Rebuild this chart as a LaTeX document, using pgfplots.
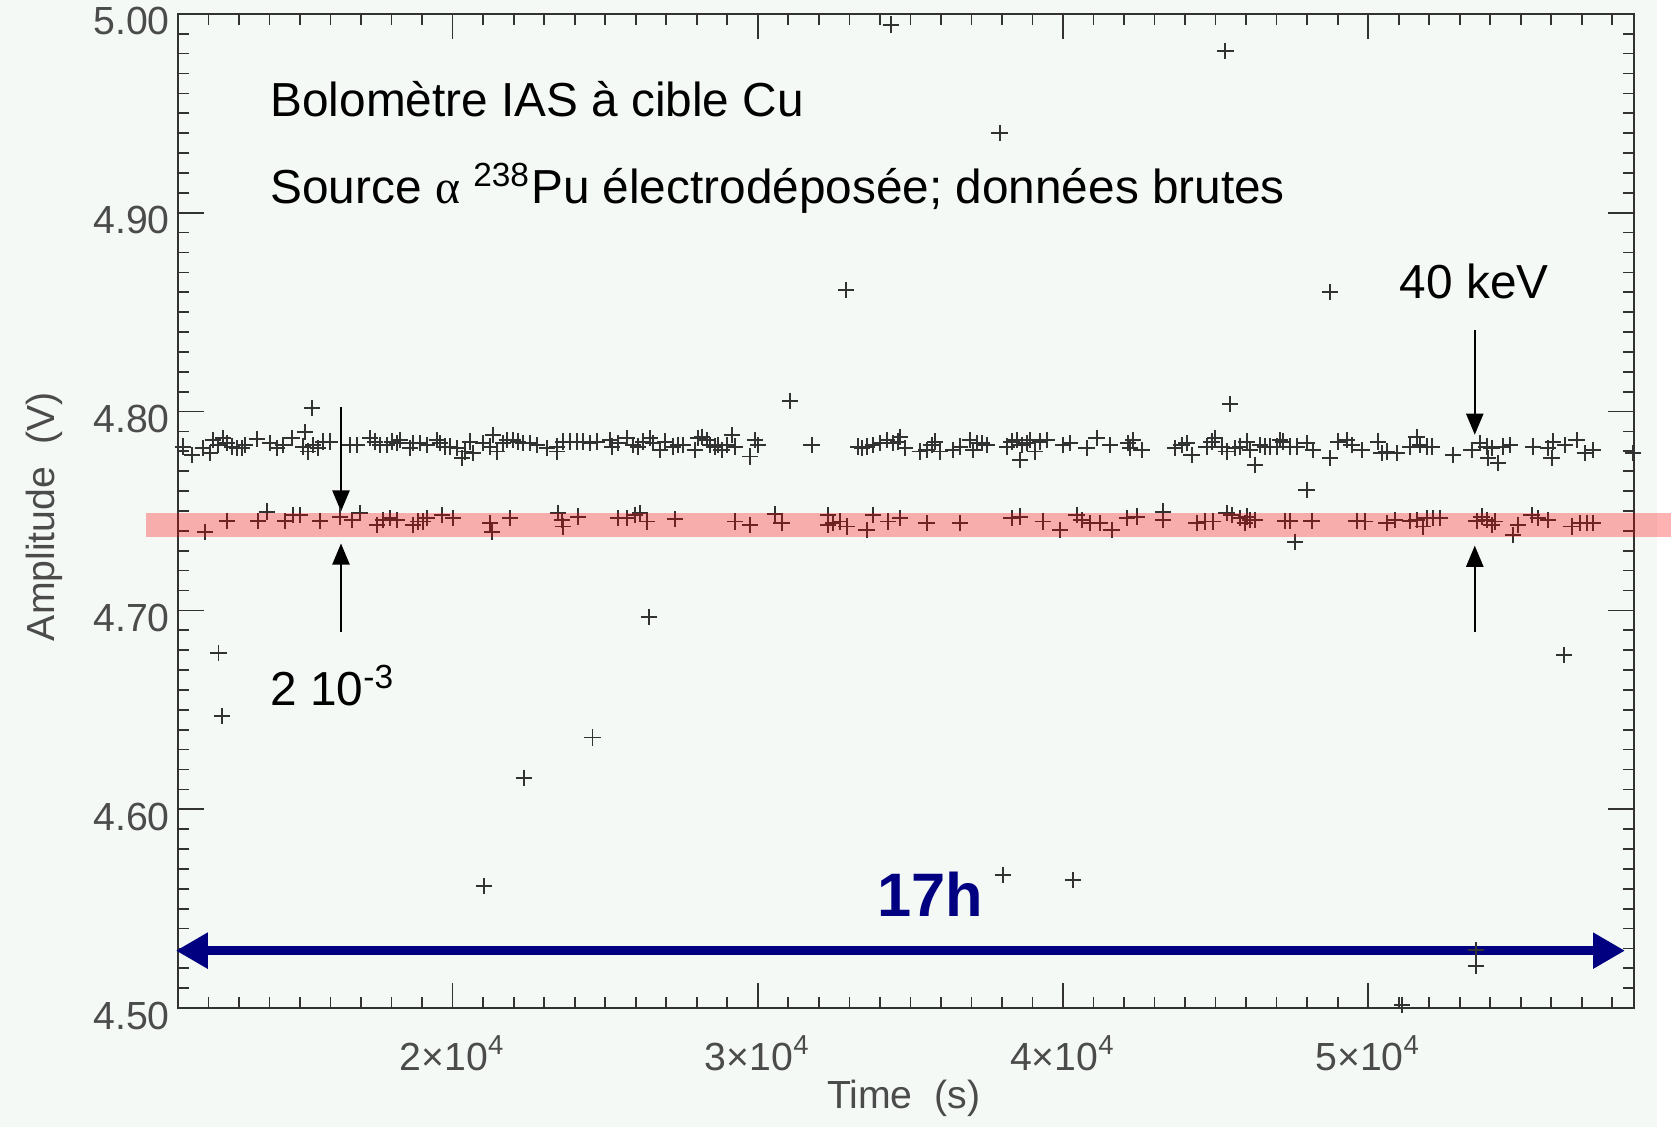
\documentclass[border=0pt]{standalone}
\usepackage{pgfplots}
\pgfplotsset{compat=1.18}
\usepackage{pgfplotstable}
\usetikzlibrary{arrows.meta}
\usepackage{fontspec}
\setmainfont{Liberation Sans}
\newfontfamily\greekfont{Liberation Serif}

\definecolor{paper}{RGB}{244,249,246}
\definecolor{ink}{RGB}{50,50,50}
\definecolor{labelink}{RGB}{75,75,75}
\definecolor{navy}{RGB}{0,0,128}

% Upper line of events (raw amplitude, V) versus time (s)
\pgfplotstableread{
t a
11175 4.7824
11448 4.7782
11830 4.7815
12049 4.7790
12157 4.7857
12322 4.7832
12485 4.7866
12594 4.7841
12758 4.7824
12922 4.7815
13086 4.7815
13195 4.7832
13578 4.7862
14014 4.7841
14233 4.7815
14451 4.7832
14724 4.7866
15107 4.7824
15161 4.7899
15271 4.7799
15434 4.7832
15598 4.7815
15762 4.7849
15980 4.7849
16636 4.7832
16854 4.7832
17291 4.7866
17455 4.7849
17619 4.7832
17837 4.7832
18001 4.7849
18165 4.7841
18274 4.7857
18602 4.7815
18711 4.7841
18929 4.7841
19148 4.7832
19476 4.7857
19585 4.7841
19749 4.7824
19912 4.7824
20131 4.7815
20295 4.7765
20404 4.7799
20568 4.7849
20677 4.7790
21005 4.7841
21223 4.7824
21332 4.7882
21441 4.7799
21660 4.7841
21769 4.7857
21987 4.7857
22151 4.7849
22315 4.7841
22534 4.7841
22752 4.7832
23080 4.7815
23407 4.7824
23407 4.7799
23626 4.7849
23844 4.7849
24063 4.7849
24281 4.7849
24500 4.7841
24718 4.7849
25155 4.7857
25209 4.7824
25428 4.7841
25701 4.7866
25920 4.7832
26083 4.7824
26247 4.7849
26465 4.7866
26575 4.7841
26793 4.7807
26957 4.7849
27230 4.7824
27393 4.7832
27557 4.7832
27940 4.7807
28049 4.7866
28158 4.7874
28322 4.7857
28431 4.7832
28595 4.7824
28704 4.7832
28813 4.7807
28977 4.7832
29141 4.7882
29250 4.7824
29742 4.7774
29905 4.7857
30015 4.7832
31762 4.7832
33291 4.7824
33401 4.7815
33564 4.7824
33783 4.7832
34001 4.7841
34220 4.7857
34438 4.7841
34602 4.7849
34657 4.7874
34820 4.7815
35312 4.7799
35530 4.7807
35694 4.7832
35803 4.7849
35967 4.7799
36404 4.7807
36623 4.7824
36950 4.7857
37060 4.7807
37169 4.7841
37332 4.7841
37496 4.7832
38152 4.7824
38315 4.7849
38479 4.7857
38643 4.7832
38588 4.7757
38807 4.7841
38916 4.7857
39080 4.7799
39244 4.7849
39462 4.7857
40008 4.7832
40227 4.7841
40773 4.7815
41100 4.7866
41537 4.7832
42138 4.7841
42193 4.7815
42302 4.7857
42575 4.7807
43667 4.7815
43885 4.7832
44049 4.7841
44213 4.7782
44704 4.7824
44868 4.7849
44977 4.7866
45196 4.7824
45360 4.7799
45633 4.7815
45797 4.7824
46015 4.7849
46124 4.7807
46288 4.7732
46452 4.7832
46616 4.7824
46780 4.7824
46998 4.7824
47107 4.7857
47216 4.7849
47435 4.7824
47653 4.7824
47981 4.7841
48199 4.7807
48746 4.7765
49018 4.7849
49291 4.7857
49455 4.7832
49783 4.7807
50329 4.7849
50438 4.7790
50602 4.7799
50930 4.7790
51367 4.7824
51585 4.7874
51694 4.7832
51913 4.7824
52077 4.7824
52787 4.7782
53388 4.7807
53661 4.7841
53879 4.7824
53933 4.7765
54043 4.7815
54261 4.7740
54425 4.7824
54643 4.7832
55408 4.7824
55899 4.7815
56063 4.7849
56009 4.7765
56446 4.7832
56828 4.7857
57101 4.7790
57374 4.7807
58685 4.7790
}\upperline

% Lower line of events
\pgfplotstableread{
t a
11885 4.7396
12594 4.7450
13632 4.7450
13905 4.7497
14506 4.7450
14779 4.7480
14997 4.7480
15653 4.7450
16308 4.7472
16690 4.7455
16963 4.7489
17510 4.7430
17728 4.7455
17946 4.7463
18165 4.7455
18711 4.7430
18875 4.7447
19039 4.7447
19148 4.7463
19639 4.7480
20022 4.7463
21223 4.7438
21278 4.7396
21878 4.7463
23462 4.7489
23571 4.7455
23626 4.7422
24117 4.7472
25428 4.7463
25701 4.7463
25974 4.7480
26138 4.7489
26356 4.7447
27284 4.7458
29250 4.7447
29742 4.7430
30561 4.7483
30779 4.7438
32308 4.7480
32308 4.7430
32472 4.7438
32691 4.7447
32909 4.7422
33564 4.7405
33783 4.7480
34274 4.7447
34657 4.7463
35530 4.7438
36623 4.7438
38315 4.7463
38588 4.7472
39353 4.7447
39899 4.7405
40445 4.7480
40609 4.7455
40882 4.7438
41210 4.7438
41592 4.7405
42084 4.7463
42411 4.7472
43284 4.7497
43284 4.7455
44377 4.7438
44650 4.7447
44923 4.7447
45360 4.7489
45523 4.7480
45797 4.7463
45960 4.7438
46015 4.7472
46124 4.7455
46288 4.7455
47271 4.7450
47435 4.7450
48145 4.7450
49619 4.7450
49893 4.7447
50602 4.7438
50875 4.7455
51367 4.7450
51585 4.7455
51804 4.7422
51913 4.7463
52131 4.7463
52350 4.7463
53551 4.7450
53715 4.7472
53879 4.7455
54043 4.7430
54152 4.7447
54753 4.7380
54917 4.7430
55353 4.7480
55572 4.7463
55899 4.7455
56665 4.7422
56937 4.7438
57156 4.7438
57374 4.7438
}\lowerline

% Isolated events
\pgfplotstableread{
t a
12327 4.6785
12432 4.6468
15399 4.8017
21021 4.5616
22348 4.6158
24582 4.6361
26433 4.6967
31042 4.8055
32892 4.8612
34359 4.9946
37921 4.9400
38026 4.5670
40330 4.5643
45323 4.9812
45462 4.8039
47599 4.7346
47981 4.7606
48745 4.8601
51119 4.5016
53528 4.5290
53528 4.5210
56426 4.6774
}\strays

\begin{document}
\begin{tikzpicture}
% scanned sheet
\fill[paper] (0,0) rectangle (388.75pt,264.5pt);
\fill[white] (388.75pt,0) rectangle (392pt,264.5pt);
\begin{axis}[
  at={(41.75pt,28pt)}, anchor=south west,
  scale only axis, width=341.5pt, height=233.25pt,
  xmin=11000, xmax=58700, ymin=4.5, ymax=5.0,
  clip=false,
  axis line style={ink, line width=0.45pt},
  tick style={ink, line width=0.4pt},
  tick align=inside,
  major tick length=6pt, minor tick length=2.6pt,
  xtick={20000,30000,40000,50000},
  xticklabels={2×10\textsuperscript{4},3×10\textsuperscript{4},4×10\textsuperscript{4},5×10\textsuperscript{4}},
  minor xtick={11000,12000,...,58000},
  ytick={4.5,4.6,4.7,4.8,4.9,5.0},
  yticklabels={4.50,4.60,4.70,4.80,4.90,5.00},
  minor ytick={4.51,4.52,4.53,4.54,4.55,4.56,4.57,4.58,4.59,4.61,4.62,4.63,4.64,4.65,4.66,4.67,4.68,4.69,4.71,4.72,4.73,4.74,4.75,4.76,4.77,4.78,4.79,4.81,4.82,4.83,4.84,4.85,4.86,4.87,4.88,4.89,4.91,4.92,4.93,4.94,4.95,4.96,4.97,4.98,4.99},
  scaled x ticks=false, scaled y ticks=false,
  ticklabel style={font=\fontsize{9.2}{11}\selectfont, text=labelink},
  yticklabel style={anchor=east, inner sep=0pt, xshift=-1.75pt, yshift=-1.75pt},
  xticklabel style={anchor=base, inner sep=0pt, yshift=-14.75pt},
]
\addplot[only marks, mark=+, mark size=1.9pt, ink, mark options={line width=0.45pt}] table {\upperline};
\addplot[only marks, mark=+, mark size=1.9pt, ink, mark options={line width=0.45pt}] table {\lowerline};
\addplot[only marks, mark=+, mark size=1.9pt, ink, mark options={line width=0.45pt}] table {\strays};

% annotations
\node[anchor=base west, inner sep=0pt, font=\fontsize{11.2}{13}\selectfont]
  at (axis cs:14003,4.9486) {Bolomètre IAS à cible Cu};
\node[anchor=base west, inner sep=0pt, font=\fontsize{11.2}{13}\selectfont]
  at (axis cs:14003,4.9046) {Source {\greekfont α} \textsuperscript{238}Pu électrodéposée; données brutes};
\node[anchor=base west, inner sep=0pt, font=\fontsize{11.2}{13}\selectfont]
  at (axis cs:51014,4.8569) {40 keV};
\node[anchor=base west, inner sep=0pt, font=\fontsize{11.2}{13}\selectfont]
  at (axis cs:14003,4.6522) {2 10\textsuperscript{-3}};

\draw[line width=0.6pt, -{Triangle[length=5pt,width=4pt]}]
  (axis cs:16342,4.8022) -- (axis cs:16342,4.7497);
\draw[line width=0.6pt, -{Triangle[length=5pt,width=4pt]}]
  (axis cs:16342,4.6892) -- (axis cs:16342,4.7337);
\draw[line width=0.6pt, -{Triangle[length=5pt,width=4pt]}]
  (axis cs:53493,4.8408) -- (axis cs:53493,4.7883);
\draw[line width=0.6pt, -{Triangle[length=5pt,width=4pt]}]
  (axis cs:53493,4.6892) -- (axis cs:53493,4.7326);

\draw[navy, line width=2pt, {Triangle[length=7.5pt,width=8pt]}-{Triangle[length=7.5pt,width=8pt]}]
  (axis cs:10930,4.5289) -- (axis cs:58416,4.5289);
\node[anchor=base, inner sep=0pt, text=navy, font=\fontsize{14.4}{16}\selectfont\bfseries]
  at (axis cs:35651,4.5461) {17h};
\end{axis}

% axis titles
\node[rotate=90, text=labelink, font=\fontsize{9.2}{11}\selectfont] at (10.5pt,143.25pt) {Amplitude\ \ (V)};
\node[anchor=base, inner sep=0pt, text=labelink, font=\fontsize{9.2}{11}\selectfont] at (212pt,4.5pt) {Time\ \ (s)};

% highlighted line
\fill[red, opacity=0.3] (34.25pt,138.5pt) rectangle (392pt,144.25pt);
\end{tikzpicture}
\end{document}
